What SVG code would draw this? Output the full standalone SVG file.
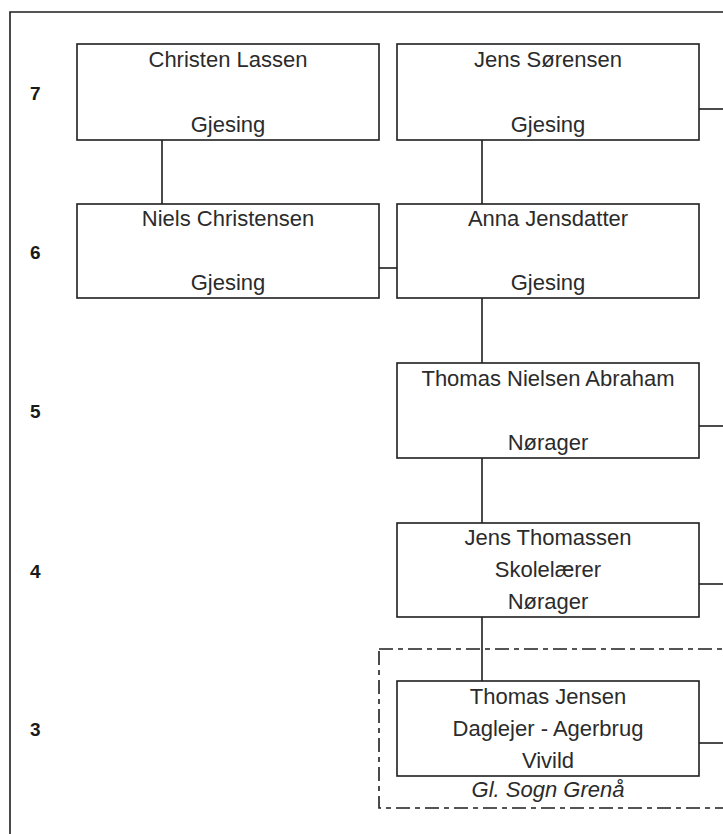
<svg xmlns="http://www.w3.org/2000/svg" width="723" height="834" viewBox="0 0 723 834">
<style>
.box{fill:#fff;stroke:#1e1e1e;stroke-width:1.6}
.ln{stroke:#1e1e1e;stroke-width:1.6;fill:none}
.t{font-family:"Liberation Sans",Arial,sans-serif;font-size:22px;fill:#2b2b2b;text-anchor:middle}
.it{font-style:italic}
.num{font-family:"Liberation Sans",Arial,sans-serif;font-size:19px;font-weight:bold;fill:#1a1a1a}
.dash{fill:none;stroke:#1e1e1e;stroke-width:1.6;stroke-dasharray:14 5 5 5}
</style>
<rect width="723" height="834" fill="#fff"/>
<g id="frame">
<path class="ln" d="M10,834 V12 H723"/>
</g>
<g id="generations">
<text class="num" x="30" y="100">7</text>
<text class="num" x="30" y="259">6</text>
<text class="num" x="30" y="418">5</text>
<text class="num" x="30" y="578">4</text>
<text class="num" x="30" y="736">3</text>
</g>
<g id="parish-group">
<rect class="dash" x="379" y="649" width="400" height="159"/>
<text class="t it" x="548" y="797">Gl. Sogn Grenå</text>
</g>
<g id="connectors">
<path class="ln" d="M162,140 V204"/>
<path class="ln" d="M482,140 V204"/>
<path class="ln" d="M379,268 H399"/>
<path class="ln" d="M482,298 V363"/>
<path class="ln" d="M482,458 V523"/>
<path class="ln" d="M482,617 V681"/>
<path class="ln" d="M699,109 H723"/>
<path class="ln" d="M699,426 H723"/>
<path class="ln" d="M699,584 H723"/>
<path class="ln" d="M699,743 H723"/>
</g>
<g id="christen-lassen">
<rect class="box" x="77" y="44" width="302" height="96"/>
<text class="t" x="228" y="67">Christen Lassen</text>
<text class="t" x="228" y="132">Gjesing</text>
</g>
<g id="jens-sorensen">
<rect class="box" x="397" y="44" width="302" height="96"/>
<text class="t" x="548" y="67">Jens Sørensen</text>
<text class="t" x="548" y="132">Gjesing</text>
</g>
<g id="niels-christensen">
<rect class="box" x="77" y="204" width="302" height="94"/>
<text class="t" x="228" y="226">Niels Christensen</text>
<text class="t" x="228" y="290">Gjesing</text>
</g>
<g id="anna-jensdatter">
<rect class="box" x="397" y="204" width="302" height="94"/>
<text class="t" x="548" y="226">Anna Jensdatter</text>
<text class="t" x="548" y="290">Gjesing</text>
</g>
<g id="thomas-nielsen-abraham">
<rect class="box" x="397" y="363" width="302" height="95"/>
<text class="t" x="548" y="386">Thomas Nielsen Abraham</text>
<text class="t" x="548" y="450">Nørager</text>
</g>
<g id="jens-thomassen">
<rect class="box" x="397" y="523" width="302" height="94"/>
<text class="t" x="548" y="545">Jens Thomassen</text>
<text class="t" x="548" y="577">Skolelærer</text>
<text class="t" x="548" y="609">Nørager</text>
</g>
<g id="thomas-jensen">
<rect class="box" x="397" y="681" width="302" height="95"/>
<text class="t" x="548" y="704">Thomas Jensen</text>
<text class="t" x="548" y="736">Daglejer - Agerbrug</text>
<text class="t" x="548" y="768">Vivild</text>
</g>
</svg>
